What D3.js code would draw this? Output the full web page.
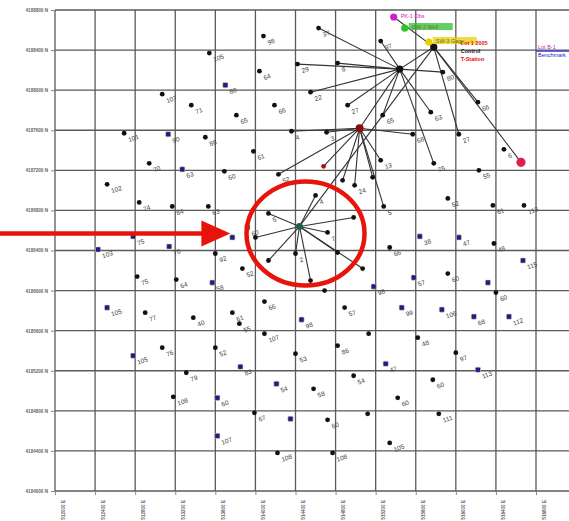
<!DOCTYPE html>
<html>
<head>
<meta charset="utf-8">
<script src="https://cdn.jsdelivr.net/npm/d3@7/dist/d3.min.js"></script>
<style>
  html, body { margin: 0; padding: 0; background: #fff; }
  svg { display: block; font-family: "Liberation Sans", Arial, sans-serif; }
</style>
</head>
<body>
<svg id="map" width="569" height="521"></svg>
<script>
// Survey grid (metres): eastings / northings of the grid lines
const eastTicks = d3.range(512000, 517200, 400);
const northTicks = d3.range(4184000, 4189200, 400);

// Ordinary stations: [id, easting, northing, label]
const blackStations = [
  ["p1", 513070, 4187960, "107"], ["p2", 512690, 4187570, "101"], ["p4", 512940, 4187270, "70"],
  ["p6", 512520, 4187060, "102"], ["p7", 512840, 4186880, "74"], ["p8", 513170, 4186840, "84"],
  ["p12", 512820, 4186140, "75"], ["p13", 513210, 4186110, "64"], ["p15", 512900, 4185780, "77"],
  ["p16", 513070, 4185430, "76"], ["p18", 513310, 4185180, "79"], ["p19", 513180, 4184940, "108"],
  ["p20", 514080, 4188540, "98"], ["p21", 513540, 4188370, "105"], ["p22", 514630, 4188620, "37"],
  ["p23", 514040, 4188190, "64"], ["p24", 514420, 4188260, "29"], ["p25", 514820, 4188270, "8"],
  ["p27", 514550, 4187980, "22"], ["p28", 514920, 4187850, "27"], ["p29", 513360, 4187850, "71"],
  ["p30", 513810, 4187750, "65"], ["p31", 514190, 4187850, "66"], ["p32", 514360, 4187590, "4"],
  ["p33", 514710, 4187580, "3"], ["p35", 513500, 4187530, "88"], ["p36", 513980, 4187390, "61"],
  ["p38", 513690, 4187190, "60"], ["p39", 514230, 4187160, "52"], ["p42", 515250, 4188490, "37"],
  ["p46", 516220, 4187880, "66"], ["p47", 515570, 4187560, "68"], ["p48", 516030, 4187560, "27"],
  ["p49", 516480, 4187410, "6"], ["p51", 515780, 4187270, "75"], ["p52", 516230, 4187200, "55"],
  ["p53", 515870, 4188180, "80"], ["p54", 515750, 4187780, "63"], ["p55", 515270, 4187750, "65"],
  ["p58", 513530, 4186840, "63"], ["p61", 514000, 4186530, ""], ["p63", 514130, 4186770, "5"],
  ["p64", 514600, 4186950, "4"], ["p65", 514980, 4186730, ""], ["p66", 514720, 4186580, "7"],
  ["p67", 514820, 4186380, ""], ["p68", 515070, 4186220, ""], ["p69", 514550, 4186100, ""],
  ["p70", 514130, 4186300, ""], ["p71", 514400, 4186370, "2"], ["p72", 513600, 4186370, "92"],
  ["p73", 513870, 4186220, "52"], ["p76", 514690, 4186000, ""], ["p77", 514890, 4185830, "57"],
  ["p78", 514090, 4185890, "66"], ["p79", 513770, 4185780, "61"], ["p81", 513380, 4185730, "40"],
  ["p82", 513840, 4185670, "55"], ["p83", 514090, 4185570, "107"], ["p84", 513600, 4185430, "52"],
  ["p85", 514820, 4185450, "86"], ["p86", 515130, 4185570, ""], ["p87", 514400, 4185370, "53"],
  ["p92", 514580, 4185020, "58"], ["p93", 514980, 4185150, "54"], ["p94", 513990, 4184780, "67"],
  ["p96", 514720, 4184710, "60"], ["p97", 515120, 4184770, ""], ["p98", 514220, 4184380, "108"],
  ["p99", 514770, 4184380, "108"], ["p100", 515280, 4186840, "5"], ["p101", 515920, 4186920, "52"],
  ["p102", 516370, 4186850, "61"], ["p103", 516680, 4186850, "113"], ["p106", 516380, 4186470, "48"],
  ["p107", 515340, 4186430, "66"], ["p110", 515920, 4186170, "60"], ["p113", 516400, 4185980, "60"],
  ["p119", 515620, 4185530, "48"], ["p122", 516000, 4185380, "97"], ["p124", 515770, 4185110, "60"],
  ["p125", 515420, 4184930, "60"], ["p126", 515830, 4184770, "111"], ["p127", 515340, 4184480, "105"],
  ["p128", 514870, 4187100, ""], ["p129", 514990, 4187050, "24"], ["p130", 515170, 4187130, ""],
  ["p131", 515250, 4187300, "13"]
];

// Benchmark stations: [id, easting, northing, label]
const blueStations = [
  ["p3", 513130, 4187560, "90"], ["p5", 513270, 4187210, "63"], ["p9", 512430, 4186410, "103"],
  ["p10", 512780, 4186540, "75"], ["p11", 513140, 4186440, "70"], ["p14", 512520, 4185830, "105"],
  ["p17", 512780, 4185350, "105"], ["p26", 513700, 4188050, "80"], ["p57", 513920, 4186630, "60"],
  ["p60", 513770, 4186530, ""], ["p74", 513570, 4186080, "58"], ["p80", 514460, 4185710, "98"],
  ["p88", 513850, 4185240, "83"], ["p89", 513620, 4184930, "60"], ["p90", 513620, 4184550, "107"],
  ["p91", 514210, 4185070, "54"], ["p95", 514350, 4184720, ""], ["p104", 515640, 4186540, "38"],
  ["p105", 516030, 4186530, "47"], ["p108", 516670, 4186300, "115"], ["p109", 515580, 4186130, "57"],
  ["p112", 516320, 4186080, ""], ["p114", 515180, 4186040, "98"], ["p115", 515460, 4185830, "99"],
  ["p116", 515860, 4185810, "106"], ["p117", 516180, 4185740, "68"], ["p118", 516530, 4185740, "112"],
  ["p121", 515300, 4185270, "47"], ["p123", 516220, 4185210, "113"]
];

// Observation hubs: [id, easting, northing, kind]
const hubs = [
  ["h34", 515040, 4187620, "red"], ["h40", 515440, 4188210, "black"],
  ["h41", 515780, 4188430, "black"], ["h62", 514440, 4186640, "green"],
  ["p50", 516650, 4187280, "pink"], ["p37", 514680, 4187240, "smallred"]
];

// Named marks with their captions: [id, easting, northing, colour key, caption]
const namedMarks = [
  ["p43", 515380, 4188730, "magenta", "PK-1  Obs"],
  ["p44", 515490, 4188620, "green", "GW-2 Well"],
  ["p45", 515730, 4188480, "yellow", "SW-3 Gage"]
];

// Sight lines: [from, to]
const sightLines = [
  ["h34", "p32"], ["h34", "p33"], ["h34", "p39"], ["h34", "p37"], ["h34", "p128"], ["h34", "p129"],
  ["h34", "p130"], ["h34", "p131"], ["h34", "p100"], ["h34", "h40"], ["h34", "p47"],
  ["h40", "p22"], ["h40", "p24"], ["h40", "p25"], ["h40", "p27"], ["h40", "p28"], ["h40", "p42"],
  ["h40", "h41"], ["h40", "p53"], ["h40", "p54"], ["h40", "p55"], ["h40", "p51"],
  ["h41", "p50"], ["h41", "p46"], ["h41", "p48"], ["h41", "h62"], ["h41", "p43"],
  ["h62", "p63"], ["h62", "p64"], ["h62", "p65"], ["h62", "p66"], ["h62", "p67"], ["h62", "p68"],
  ["h62", "p69"], ["h62", "p70"], ["h62", "p71"], ["h62", "p61"]
];

// Control captions next to hub h41 and at the right margin
const hubCaptions = ["Lot 1 2005", "Control", "T-Station"];
const hubCaptionColours = ["#e01010", "#111", "#e01010"];
const marginCaptions = ["Lot B-1", "Benchmark"];

const svg = d3.select("#map");
const W = 569, H = 521;
svg.append("rect").attr("width", W).attr("height", H).attr("fill", "#fff");

const x = d3.scaleLinear().domain([512000, 516800]).range([55, 536]);
const y = d3.scaleLinear().domain([4184000, 4188800]).range([491, 10]);

// Grid (the sheet continues past the right edge)
const gridEast = d3.range(512000, 517600, 400);
const grid = svg.append("g").attr("stroke", "#5a5a5a").attr("stroke-width", 1.3);
grid.selectAll("line.v").data(gridEast).join("line")
  .attr("x1", d => x(d)).attr("x2", d => x(d))
  .attr("y1", y(northTicks[northTicks.length - 1])).attr("y2", y(northTicks[0]));
grid.selectAll("line.h").data(northTicks).join("line")
  .attr("y1", d => y(d)).attr("y2", d => y(d))
  .attr("x1", x(eastTicks[0])).attr("x2", W + 10);

// Axes
const yAxis = d3.axisLeft(y).tickValues(northTicks).tickSize(4).tickPadding(3)
  .tickFormat(d => d + " N");
const gy = svg.append("g").attr("transform", `translate(${x(eastTicks[0])},0)`).call(yAxis);
gy.select(".domain").remove();
gy.selectAll("text").attr("font-size", 4.6).attr("fill", "#666").attr("font-weight", "bold");
gy.selectAll("line").attr("stroke", "#888");

const xAxis = d3.axisBottom(x).tickValues(eastTicks).tickSize(4).tickFormat(d => d + " E");
const gx = svg.append("g").attr("transform", `translate(0,${y(northTicks[0])})`).call(xAxis);
gx.select(".domain").remove();
gx.selectAll("line").attr("stroke", "#888");
gx.selectAll("text").attr("font-size", 4.6).attr("fill", "#666").attr("font-weight", "bold")
  .attr("text-anchor", "end").attr("dy", 0)
  .attr("transform", "translate(2,9) rotate(-90)");

// Lookup of every positioned mark
const pos = new Map();
[...blackStations, ...blueStations, ...hubs, ...namedMarks].forEach(d => pos.set(d[0], [d[1], d[2]]));

// Sight lines
svg.append("g").attr("stroke", "#333").attr("stroke-width", 1.1)
  .selectAll("line").data(sightLines).join("line")
  .attr("x1", d => x(pos.get(d[0])[0])).attr("y1", d => y(pos.get(d[0])[1]))
  .attr("x2", d => x(pos.get(d[1])[0])).attr("y2", d => y(pos.get(d[1])[1]));

// Station labels
function labels(data) {
  svg.append("g").selectAll("text").data(data.filter(d => d[3])).join("text")
    .attr("transform", d => `translate(${x(d[1]) + 5},${y(d[2]) + 9}) rotate(-20)`)
    .attr("font-size", 6.5).attr("fill", "#444")
    .text(d => d[3]);
}
labels(blackStations);
labels(blueStations);

// Station marks
svg.append("g").selectAll("circle").data(blackStations).join("circle")
  .attr("cx", d => x(d[1])).attr("cy", d => y(d[2])).attr("r", 2.4).attr("fill", "#111");
svg.append("g").selectAll("rect").data(blueStations).join("rect")
  .attr("x", d => x(d[1]) - 2.6).attr("y", d => y(d[2]) - 2.6)
  .attr("width", 5.2).attr("height", 5.2).attr("rx", 1)
  .attr("fill", "#1c1c8c").attr("stroke", "#d8d890").attr("stroke-width", 0.6);

const hubStyle = {
  red: { r: 4, fill: "#8a0a0a" }, black: { r: 3.6, fill: "#111" },
  green: { r: 3.4, fill: "#1d6045" }, pink: { r: 4.6, fill: "#e0204a" },
  smallred: { r: 2.4, fill: "#b01010" }
};
svg.append("g").selectAll("circle").data(hubs).join("circle")
  .attr("cx", d => x(d[1])).attr("cy", d => y(d[2]))
  .attr("r", d => hubStyle[d[3]].r).attr("fill", d => hubStyle[d[3]].fill);

// Named marks with highlighted captions
const markColour = { magenta: "#d020c8", green: "#30c030", yellow: "#e8d000" };
const named = svg.append("g");
named.selectAll("rect.hl").data(namedMarks.filter(d => d[3] !== "magenta")).join("rect")
  .attr("x", d => x(d[1]) + 4).attr("y", d => y(d[2]) - 5)
  .attr("width", 44).attr("height", 7).attr("fill", d => markColour[d[3]]).attr("opacity", 0.75);
named.selectAll("circle").data(namedMarks).join("circle")
  .attr("cx", d => x(d[1])).attr("cy", d => y(d[2])).attr("r", 3.6)
  .attr("fill", d => markColour[d[3]]);
named.selectAll("text").data(namedMarks).join("text")
  .attr("x", d => x(d[1]) + 7).attr("y", d => y(d[2]) + 1)
  .attr("font-size", 5.5)
  .attr("fill", d => d[3] === "magenta" ? "#d020c8" : "#6a6a20")
  .text(d => d[4]);

// Captions beside hub h41
const h41 = pos.get("h41");
svg.append("g").selectAll("text").data(hubCaptions).join("text")
  .attr("x", x(h41[0]) + 27).attr("y", (d, i) => y(h41[1]) - 2 + i * 8)
  .attr("font-size", 5.5).attr("font-weight", "bold")
  .attr("fill", (d, i) => hubCaptionColours[i]).text(d => d);

// Right-margin captions with leader
const mg = svg.append("g");
mg.append("line").attr("x1", x(eastTicks[eastTicks.length - 1])).attr("x2", W)
  .attr("y1", y(northTicks[northTicks.length - 2]) + 1).attr("y2", y(northTicks[northTicks.length - 2]) + 1)
  .attr("stroke", "#3030d0").attr("stroke-width", 1.2);
mg.selectAll("text").data(marginCaptions).join("text")
  .attr("x", x(eastTicks[eastTicks.length - 1]) + 2)
  .attr("y", (d, i) => y(northTicks[northTicks.length - 2]) - 1 + i * 8)
  .attr("font-size", 5.5).attr("fill", (d, i) => i ? "#2020d0" : "#c020c0").text(d => d);

// Highlight: ring around hub h62 and arrow toward station p60
const hg = pos.get("h62");
svg.append("ellipse")
  .attr("cx", x(hg[0]) + 6).attr("cy", y(hg[1]) + 7).attr("rx", 59).attr("ry", 52)
  .attr("fill", "none").attr("stroke", "#e8140c").attr("stroke-width", 4.5);
const tp = pos.get("p60");
const tipX = x(tp[0]) - 2, tipY = y(tp[1]) - 4;
svg.append("line").attr("x1", 0).attr("x2", tipX - 24).attr("y1", tipY).attr("y2", tipY)
  .attr("stroke", "#e8140c").attr("stroke-width", 4.5);
svg.append("path")
  .attr("d", `M${tipX},${tipY} L${tipX - 29},${tipY - 13} L${tipX - 29},${tipY + 13} Z`)
  .attr("fill", "#e8140c");
</script>
</body>
</html>
